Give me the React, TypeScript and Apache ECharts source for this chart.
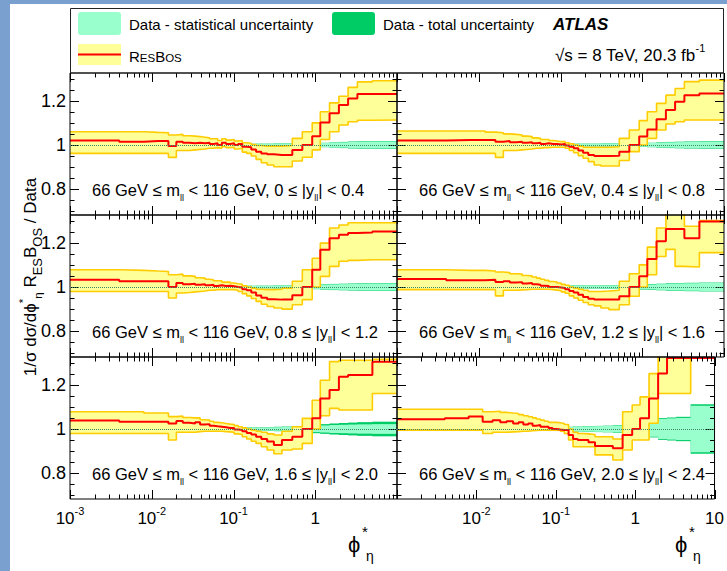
import React, { useEffect, useRef } from 'react';
import * as echarts from 'echarts';

// phi*_eta bin edges (first bin starts at 0, drawn from the axis minimum)
const phiEdges = [0, 0.004, 0.008, 0.012, 0.016, 0.020, 0.024, 0.029, 0.034, 0.039, 0.045, 0.051, 0.057, 0.064, 0.072, 0.081, 0.091, 0.102, 0.114, 0.128, 0.145, 0.165, 0.189, 0.219, 0.258, 0.312, 0.391, 0.524, 0.695, 0.918, 1.153, 1.496, 1.947, 2.522, 3.277, 5.0, 10.0];

const rapLo = ['0', '0.4', '0.8', '1.2', '1.6', '2.0'];
const rapHi = ['0.4', '0.8', '1.2', '1.6', '2.0', '2.4'];

const xDecades = [0.001, 0.01, 0.1, 1, 10];
const xLabelText = ['10{sup|-3}', '10{sup|-2}', '10{sup|-1}', '1', '10'];
const xMinorMultipliers = [2, 3, 4, 5, 6, 7, 8, 9];
const yMajor = [0.8, 1.0, 1.2];
const yMinor = [0.7, 0.75, 0.85, 0.9, 0.95, 1.05, 1.1, 1.15, 1.25, 1.3];

// Panel 1: 0 <= |y| < 0.4
const resbos1 = [1.020, 1.015, 1.018, 1.018, 0.995, 1.015, 1.010, 1.008, 1.010, 1.008, 1.010, 1.005, 1.008, 1.000, 1.010, 1.005, 1.008, 1.000, 1.005, 0.992, 0.990, 0.980, 0.970, 0.962, 0.958, 0.955, 0.955, 0.977, 1.000, 1.040, 1.102, 1.143, 1.180, 1.210, 1.230, 1.230];
const resbosUp1 = [1.060, 1.060, 1.057, 1.055, 1.045, 1.048, 1.042, 1.040, 1.038, 1.035, 1.032, 1.028, 1.028, 1.020, 1.028, 1.022, 1.025, 1.018, 1.020, 1.010, 1.008, 1.002, 0.998, 0.995, 0.995, 0.995, 0.998, 1.030, 1.060, 1.100, 1.150, 1.190, 1.220, 1.260, 1.285, 1.290];
const resbosLo1 = [0.962, 0.962, 0.962, 0.962, 0.944, 0.975, 0.975, 0.978, 0.980, 0.982, 0.985, 0.985, 0.988, 0.985, 0.992, 0.988, 0.990, 0.982, 0.985, 0.968, 0.962, 0.950, 0.935, 0.920, 0.910, 0.902, 0.902, 0.928, 0.945, 0.978, 1.025, 1.060, 1.090, 1.105, 1.112, 1.113];
const stat1 = [0.005, 0.005, 0.005, 0.005, 0.005, 0.005, 0.005, 0.005, 0.005, 0.005, 0.005, 0.005, 0.005, 0.005, 0.005, 0.005, 0.005, 0.005, 0.005, 0.005, 0.005, 0.005, 0.005, 0.005, 0.005, 0.006, 0.006, 0.006, 0.007, 0.008, 0.009, 0.011, 0.012, 0.014, 0.015, 0.016];
const total1 = [0.006, 0.006, 0.006, 0.006, 0.006, 0.006, 0.006, 0.006, 0.006, 0.006, 0.006, 0.006, 0.006, 0.006, 0.006, 0.006, 0.006, 0.006, 0.006, 0.006, 0.006, 0.006, 0.006, 0.006, 0.006, 0.007, 0.007, 0.007, 0.008, 0.009, 0.010, 0.012, 0.014, 0.016, 0.017, 0.018];

// Panel 2: 0.4 <= |y| < 0.8
const resbos2 = [1.020, 1.022, 1.022, 1.022, 1.015, 1.018, 1.012, 1.015, 1.010, 1.012, 1.008, 1.010, 1.005, 1.008, 1.005, 1.005, 1.002, 1.004, 0.998, 0.992, 0.985, 0.975, 0.965, 0.955, 0.950, 0.950, 0.952, 0.970, 1.000, 1.038, 1.070, 1.116, 1.158, 1.195, 1.225, 1.233];
const resbosUp2 = [1.063, 1.063, 1.063, 1.058, 1.055, 1.050, 1.048, 1.045, 1.040, 1.038, 1.032, 1.030, 1.025, 1.025, 1.020, 1.018, 1.015, 1.015, 1.010, 1.005, 1.000, 0.995, 0.990, 0.990, 0.990, 0.990, 0.992, 1.030, 1.068, 1.110, 1.150, 1.188, 1.225, 1.255, 1.286, 1.293];
const resbosLo2 = [0.962, 0.962, 0.962, 0.962, 0.944, 0.975, 0.975, 0.978, 0.980, 0.982, 0.985, 0.985, 0.988, 0.988, 0.990, 0.990, 0.990, 0.990, 0.985, 0.975, 0.965, 0.952, 0.940, 0.925, 0.910, 0.905, 0.905, 0.930, 0.970, 1.000, 1.030, 1.068, 1.095, 1.105, 1.113, 1.113];
const stat2 = [0.005, 0.005, 0.005, 0.005, 0.005, 0.005, 0.005, 0.005, 0.005, 0.005, 0.005, 0.005, 0.005, 0.005, 0.005, 0.005, 0.005, 0.005, 0.005, 0.005, 0.005, 0.005, 0.005, 0.005, 0.005, 0.006, 0.006, 0.006, 0.007, 0.008, 0.009, 0.010, 0.012, 0.013, 0.014, 0.015];
const total2 = [0.006, 0.006, 0.006, 0.006, 0.006, 0.006, 0.006, 0.006, 0.006, 0.006, 0.006, 0.006, 0.006, 0.006, 0.006, 0.006, 0.006, 0.006, 0.006, 0.006, 0.006, 0.006, 0.006, 0.006, 0.006, 0.007, 0.007, 0.007, 0.008, 0.009, 0.010, 0.012, 0.014, 0.015, 0.016, 0.017];

// Panel 3: 0.8 <= |y| < 1.2
const resbos3 = [1.033, 1.026, 1.026, 1.026, 1.000, 1.018, 1.012, 1.015, 1.010, 1.012, 1.008, 1.010, 1.005, 1.008, 1.005, 1.006, 1.003, 1.000, 0.998, 0.990, 0.985, 0.975, 0.962, 0.952, 0.945, 0.943, 0.943, 0.963, 1.000, 1.078, 1.168, 1.220, 1.236, 1.244, 1.246, 1.250];
const resbosUp3 = [1.078, 1.075, 1.072, 1.070, 1.055, 1.058, 1.050, 1.048, 1.042, 1.040, 1.035, 1.032, 1.028, 1.028, 1.022, 1.022, 1.018, 1.015, 1.012, 1.005, 1.000, 0.995, 0.990, 0.988, 0.988, 0.990, 0.995, 1.026, 1.078, 1.130, 1.198, 1.266, 1.280, 1.290, 1.290, 1.290];
const resbosLo3 = [0.980, 0.980, 0.980, 0.980, 0.950, 0.973, 0.975, 0.978, 0.980, 0.982, 0.985, 0.985, 0.988, 0.988, 0.988, 0.988, 0.988, 0.985, 0.980, 0.970, 0.960, 0.948, 0.935, 0.922, 0.912, 0.905, 0.900, 0.920, 0.943, 1.000, 1.048, 1.093, 1.116, 1.120, 1.123, 1.123];
const stat3 = [0.005, 0.005, 0.005, 0.005, 0.005, 0.005, 0.005, 0.005, 0.005, 0.005, 0.005, 0.005, 0.005, 0.005, 0.005, 0.005, 0.005, 0.005, 0.005, 0.005, 0.005, 0.005, 0.005, 0.005, 0.005, 0.006, 0.006, 0.007, 0.008, 0.009, 0.010, 0.012, 0.013, 0.014, 0.015, 0.016];
const total3 = [0.006, 0.006, 0.006, 0.006, 0.006, 0.006, 0.006, 0.006, 0.006, 0.006, 0.006, 0.006, 0.006, 0.006, 0.006, 0.006, 0.006, 0.006, 0.006, 0.006, 0.006, 0.006, 0.006, 0.006, 0.006, 0.007, 0.007, 0.008, 0.009, 0.010, 0.012, 0.014, 0.015, 0.016, 0.017, 0.018];

// Panel 4: 1.2 <= |y| < 1.6
const resbos4 = [1.036, 1.030, 1.030, 1.033, 1.022, 1.026, 1.020, 1.022, 1.016, 1.018, 1.012, 1.010, 1.006, 1.004, 1.000, 1.000, 0.998, 0.995, 0.990, 0.982, 0.975, 0.965, 0.955, 0.947, 0.943, 0.943, 0.943, 0.958, 1.000, 1.048, 1.126, 1.206, 1.262, 1.262, 1.220, 1.296];
const resbosUp4 = [1.078, 1.075, 1.075, 1.072, 1.068, 1.065, 1.060, 1.058, 1.052, 1.050, 1.045, 1.040, 1.035, 1.030, 1.025, 1.022, 1.018, 1.012, 1.008, 1.000, 0.995, 0.990, 0.985, 0.980, 0.980, 0.982, 0.985, 1.026, 1.060, 1.100, 1.180, 1.266, 1.340, 1.340, 1.274, 1.300];
const resbosLo4 = [0.988, 0.988, 0.988, 0.988, 0.960, 0.985, 0.985, 0.987, 0.988, 0.990, 0.990, 0.990, 0.990, 0.990, 0.988, 0.986, 0.983, 0.978, 0.972, 0.960, 0.950, 0.940, 0.930, 0.920, 0.915, 0.905, 0.898, 0.920, 0.958, 1.000, 1.055, 1.138, 1.170, 1.093, 1.090, 1.155];
const stat4 = [0.006, 0.006, 0.006, 0.006, 0.006, 0.006, 0.006, 0.006, 0.006, 0.006, 0.006, 0.006, 0.006, 0.006, 0.006, 0.006, 0.006, 0.006, 0.006, 0.006, 0.006, 0.006, 0.006, 0.006, 0.006, 0.007, 0.007, 0.008, 0.009, 0.010, 0.011, 0.013, 0.015, 0.016, 0.017, 0.018];
const total4 = [0.007, 0.007, 0.007, 0.007, 0.007, 0.007, 0.007, 0.007, 0.007, 0.007, 0.007, 0.007, 0.007, 0.007, 0.007, 0.007, 0.007, 0.007, 0.007, 0.007, 0.007, 0.007, 0.007, 0.007, 0.007, 0.008, 0.008, 0.009, 0.010, 0.012, 0.013, 0.015, 0.017, 0.018, 0.019, 0.020];

// Panel 5: 1.6 <= |y| < 2.0
const resbos5 = [1.038, 1.033, 1.033, 1.033, 1.025, 1.036, 1.028, 1.025, 1.030, 1.020, 1.022, 1.015, 1.012, 1.010, 1.008, 1.005, 1.005, 0.998, 0.995, 0.990, 0.982, 0.975, 0.965, 0.955, 0.943, 0.928, 0.950, 0.965, 1.000, 1.048, 1.138, 1.176, 1.236, 1.244, 1.244, 1.304];
const resbosUp5 = [1.078, 1.078, 1.072, 1.072, 1.056, 1.058, 1.052, 1.050, 1.050, 1.042, 1.040, 1.035, 1.030, 1.028, 1.025, 1.022, 1.020, 1.015, 1.010, 1.005, 1.000, 0.995, 0.990, 0.985, 0.978, 0.973, 0.990, 1.010, 1.048, 1.130, 1.220, 1.304, 1.310, 1.310, 1.310, 1.315];
const resbosLo5 = [0.980, 0.980, 0.980, 0.980, 0.950, 0.985, 0.985, 0.985, 0.988, 0.990, 0.990, 0.990, 0.990, 0.990, 0.988, 0.987, 0.985, 0.978, 0.975, 0.965, 0.955, 0.945, 0.935, 0.920, 0.905, 0.888, 0.905, 0.910, 0.935, 1.000, 1.060, 1.093, 1.086, 1.086, 1.086, 1.160];
const stat5 = [0.006, 0.006, 0.006, 0.006, 0.006, 0.006, 0.006, 0.006, 0.006, 0.006, 0.006, 0.006, 0.006, 0.006, 0.006, 0.006, 0.006, 0.006, 0.006, 0.006, 0.006, 0.006, 0.006, 0.006, 0.007, 0.008, 0.009, 0.010, 0.012, 0.014, 0.016, 0.018, 0.019, 0.020, 0.021, 0.022];
const total5 = [0.007, 0.007, 0.007, 0.007, 0.007, 0.007, 0.007, 0.007, 0.007, 0.007, 0.007, 0.007, 0.007, 0.007, 0.007, 0.007, 0.007, 0.007, 0.007, 0.007, 0.007, 0.007, 0.007, 0.007, 0.008, 0.010, 0.011, 0.013, 0.016, 0.019, 0.022, 0.025, 0.027, 0.029, 0.031, 0.033];

// Panel 6: 2.0 <= |y| < 2.4
const resbos6 = [1.044, 1.048, 1.056, 1.033, 1.040, 1.030, 1.035, 1.025, 1.030, 1.020, 1.025, 1.015, 1.018, 1.010, 1.010, 1.005, 1.000, 0.998, 0.996, 0.995, 0.973, 0.955, 0.950, 0.950, 0.940, 0.923, 0.923, 0.913, 0.973, 1.000, 1.048, 1.138, 1.250, 1.320, 1.320, 1.320];
const resbosUp6 = [1.089, 1.089, 1.089, 1.078, 1.080, 1.075, 1.072, 1.070, 1.065, 1.060, 1.055, 1.050, 1.045, 1.040, 1.035, 1.030, 1.030, 1.028, 1.025, 1.020, 1.000, 0.985, 0.980, 0.978, 0.975, 0.965, 0.965, 0.955, 1.078, 1.108, 1.145, 1.250, 1.400, 1.450, 1.450, 1.500];
const resbosLo6 = [0.995, 0.995, 0.995, 0.980, 0.985, 0.985, 0.987, 0.988, 0.990, 0.990, 0.992, 0.993, 0.994, 0.995, 0.995, 0.995, 0.995, 0.995, 0.990, 0.980, 0.950, 0.920, 0.920, 0.920, 0.920, 0.883, 0.883, 0.860, 0.905, 0.950, 0.950, 1.026, 1.160, 1.160, 1.160, 1.340];
const stat6 = [0.008, 0.008, 0.008, 0.008, 0.008, 0.008, 0.008, 0.008, 0.008, 0.008, 0.008, 0.008, 0.008, 0.008, 0.008, 0.008, 0.008, 0.008, 0.008, 0.008, 0.009, 0.010, 0.010, 0.011, 0.012, 0.013, 0.014, 0.016, 0.018, 0.020, 0.025, 0.035, 0.045, 0.048, 0.050, 0.105];
const total6 = [0.009, 0.009, 0.009, 0.009, 0.009, 0.009, 0.009, 0.009, 0.009, 0.009, 0.009, 0.009, 0.009, 0.009, 0.009, 0.009, 0.009, 0.009, 0.009, 0.009, 0.010, 0.011, 0.011, 0.012, 0.013, 0.014, 0.015, 0.018, 0.020, 0.022, 0.028, 0.038, 0.049, 0.052, 0.055, 0.112];

const panels = [
  { center: resbos1, up: resbosUp1, lo: resbosLo1, stat: stat1, total: total1 },
  { center: resbos2, up: resbosUp2, lo: resbosLo2, stat: stat2, total: total2 },
  { center: resbos3, up: resbosUp3, lo: resbosLo3, stat: stat3, total: total3 },
  { center: resbos4, up: resbosUp4, lo: resbosLo4, stat: stat4, total: total4 },
  { center: resbos5, up: resbosUp5, lo: resbosLo5, stat: stat5, total: total5 },
  { center: resbos6, up: resbosUp6, lo: resbosLo6, stat: stat6, total: total6 },
];

const X_MIN = 0.001;
const X_MAX = 10;
const Y_MIN = 0.684;
const Y_MAX = 1.325;

const FONT = "'Liberation Sans', Arial, Helvetica, sans-serif";
const MINT = '#99ffcc';
const GREEN = '#00cc66';
const YELLOW = '#ffff99';
const ORANGE = '#ffcc00';
const RED = '#ff0000';

const LEFT0 = 70;
const TOP0 = 73;
const PW = 327;
const PH = 142;

function steps(values: number[]): number[][] {
  const pts = values.map((v, i) => [Math.max(phiEdges[i], X_MIN), v]);
  pts.push([phiEdges[values.length], values[values.length - 1]]);
  return pts;
}

function binRows(lo: number[], hi: number[]): number[][] {
  return lo.map((l, i) => [Math.max(phiEdges[i], X_MIN), phiEdges[i + 1], l, hi[i]]);
}

function bandSeries(g: number, rows: number[][], color: string) {
  return {
    type: 'custom', xAxisIndex: g, yAxisIndex: g, silent: true, clip: true,
    encode: { x: [0, 1], y: [2, 3] },
    data: rows,
    renderItem: (params: any, api: any) => {
      const p0 = api.coord([api.value(0), api.value(3)]);
      const p1 = api.coord([api.value(1), api.value(2)]);
      const rect = echarts.graphic.clipRectByRect(
        { x: p0[0], y: p0[1], width: p1[0] - p0[0] + 0.6, height: p1[1] - p0[1] },
        params.coordSys,
      );
      if (!rect) return null;
      return { type: 'rect', shape: rect, style: { fill: color } };
    },
  };
}

// ROOT-style inward ticks on all four sides, placed through the panel's own axes
const xMinorTicks: number[] = [];
xDecades.slice(0, 4).forEach((d) => xMinorMultipliers.forEach((m) => xMinorTicks.push(d * m)));
const tickItems: number[][] = [
  ...xDecades.map((v) => [v, 0]),
  ...xMinorTicks.map((v) => [v, 1]),
  ...yMajor.map((v) => [v, 2]),
  ...yMinor.map((v) => [v, 3]),
];

function tickSeries(g: number) {
  return {
    type: 'custom', xAxisIndex: g, yAxisIndex: g, silent: true, clip: false, z: 4,
    encode: { x: 0, y: 1 },
    data: tickItems,
    renderItem: (params: any, api: any) => {
      const cs = params.coordSys;
      const v = api.value(0);
      const kind = api.value(1);
      const st = { stroke: '#000', lineWidth: 1 };
      if (kind <= 1) {
        const px = Math.round(api.coord([v, 1])[0]) + 0.5;
        const len = kind === 0 ? 9 : 4.5;
        const yb = cs.y + cs.height;
        return {
          type: 'group', children: [
            { type: 'line', shape: { x1: px, y1: yb, x2: px, y2: yb - len }, style: st },
            { type: 'line', shape: { x1: px, y1: cs.y, x2: px, y2: cs.y + len }, style: st },
          ],
        };
      }
      const py = Math.round(api.coord([1, v])[1]) + 0.5;
      const len = kind === 2 ? 9 : 4.5;
      const xr = cs.x + cs.width;
      return {
        type: 'group', children: [
          { type: 'line', shape: { x1: cs.x, y1: py, x2: cs.x + len, y2: py }, style: st },
          { type: 'line', shape: { x1: xr, y1: py, x2: xr - len, y2: py }, style: st },
        ],
      };
    },
  };
}

function buildOption() {
  const grid: any[] = [];
  const xAxis: any[] = [];
  const yAxis: any[] = [];
  const series: any[] = [];
  const graphic: any[] = [];

  graphic.push({ type: 'rect', z: -10, silent: true, shape: { x: 10, y: 4, width: 717, height: 567 }, style: { fill: '#ffffff' } });

  const noLine = { show: false, onZero: false };

  panels.forEach((p, g) => {
    const row = Math.floor(g / 2);
    const col = g % 2;
    const left = LEFT0 + col * PW;
    const top = TOP0 + row * PH;
    grid.push({ left, top, width: PW, height: PH, show: true, borderColor: '#000', borderWidth: 1, backgroundColor: 'transparent', z: 5 });

    xAxis.push({
      type: 'log', gridIndex: g, min: X_MIN, max: X_MAX, logBase: 10, position: 'bottom',
      axisLine: noLine, axisTick: { show: false }, splitLine: { show: false }, minorTick: { show: false },
      axisLabel: row === 2 ? {
        show: true, margin: 6, fontSize: 17, lineHeight: 26, color: '#000', fontFamily: FONT,
        formatter: (v: number) => {
          const e = Math.round(Math.log10(v));
          if (col === 0 && e === 1) return '';
          if (col === 1 && e === -3) return '';
          const idx = xDecades.findIndex((d) => Math.round(Math.log10(d)) === e);
          return idx >= 0 ? xLabelText[idx] : '';
        },
        rich: { sup: { fontSize: 11, lineHeight: 10, verticalAlign: 'top', color: '#000', fontFamily: FONT } },
      } : { show: false },
    });

    yAxis.push({
      type: 'value', gridIndex: g, min: Y_MIN, max: Y_MAX, position: 'left',
      axisLine: noLine, axisTick: { show: false }, splitLine: { show: false },
      axisLabel: { show: col === 0, customValues: yMajor, margin: 4, fontSize: 18, color: '#000', fontFamily: FONT, formatter: (v: number) => (Math.abs(v - 1) < 1e-9 ? '1' : v.toFixed(1)) },
    });

    const common = { type: 'line', xAxisIndex: g, yAxisIndex: g, symbol: 'none', showSymbol: false, silent: true, step: 'end', clip: true };
    series.push(bandSeries(g, binRows(p.total.map((t) => 1 - t), p.total.map((t) => 1 + t)), GREEN));
    series.push(bandSeries(g, binRows(p.stat.map((s) => 1 - s), p.stat.map((s) => 1 + s)), MINT));
    series.push(bandSeries(g, binRows(p.lo, p.up), YELLOW));
    series.push({ ...common, data: steps(p.up), lineStyle: { color: ORANGE, width: 1.6 } });
    series.push({
      ...common, data: steps(p.lo), lineStyle: { color: ORANGE, width: 1.6 },
      markLine: { silent: true, symbol: ['none', 'none'], label: { show: false }, lineStyle: { color: '#3f8a68', width: 1, type: 'dotted' }, data: [{ yAxis: 1 }] },
    });
    series.push({ ...common, data: steps(p.center), lineStyle: { color: RED, width: 2 } });
    series.push(tickSeries(g));

    graphic.push({
      type: 'text', x: left + 22, y: top + 117, silent: true, z: 20,
      style: {
        text: `66 GeV ≤ m{s|ll} < 116 GeV, ${rapLo[g]} ≤ |y{s|ll}| < ${rapHi[g]}`,
        fontSize: 16.5, fontFamily: FONT, fill: '#000', verticalAlign: 'middle', lineHeight: 24,
        rich: { s: { fontSize: 9, lineHeight: 10, verticalAlign: 'bottom', fontFamily: FONT, fill: '#000' } },
      },
    });

    if (row === 2) {
      const right = left + PW;
      graphic.push({ type: 'text', x: right - 49, y: 544, silent: true, z: 20, style: { text: 'ϕ', fontSize: 22, fontFamily: FONT, fill: '#000', verticalAlign: 'middle' } });
      graphic.push({ type: 'text', x: right - 35, y: 531, silent: true, z: 20, style: { text: '*', fontSize: 15, fontFamily: FONT, fill: '#000', verticalAlign: 'middle' } });
      graphic.push({ type: 'text', x: right - 31, y: 556, silent: true, z: 20, style: { text: 'η', fontSize: 14, fontFamily: FONT, fill: '#000', verticalAlign: 'middle' } });
    }
  });

  // legend
  graphic.push({ type: 'rect', silent: true, z: 20, shape: { x: 70.5, y: 8.5, width: 653, height: 64.5 }, style: { fill: 'none', stroke: '#222', lineWidth: 1 } });
  graphic.push({ type: 'rect', silent: true, z: 20, shape: { x: 78, y: 12, width: 43, height: 23, r: 3 }, style: { fill: MINT } });
  graphic.push({ type: 'text', x: 129, y: 24, silent: true, z: 20, style: { text: 'Data - statistical uncertainty', fontSize: 15, fontFamily: FONT, fill: '#000', verticalAlign: 'middle' } });
  graphic.push({ type: 'rect', silent: true, z: 20, shape: { x: 332, y: 12, width: 43, height: 23, r: 3 }, style: { fill: GREEN } });
  graphic.push({ type: 'text', x: 383, y: 24, silent: true, z: 20, style: { text: 'Data - total uncertainty', fontSize: 15, fontFamily: FONT, fill: '#000', verticalAlign: 'middle' } });
  graphic.push({ type: 'rect', silent: true, z: 20, shape: { x: 78, y: 44, width: 43, height: 21 }, style: { fill: YELLOW } });
  graphic.push({ type: 'line', silent: true, z: 20, shape: { x1: 78, y1: 54.5, x2: 121, y2: 54.5 }, style: { stroke: RED, lineWidth: 2 } });
  graphic.push({
    type: 'text', x: 129, y: 56, silent: true, z: 20,
    style: {
      text: 'R{sc|ES}B{sc|OS}', fontSize: 15, lineHeight: 15, fontFamily: FONT, fill: '#000', verticalAlign: 'middle',
      rich: { sc: { fontSize: 11.5, lineHeight: 12.6, verticalAlign: 'bottom', fontFamily: FONT, fill: '#000' } },
    },
  });
  graphic.push({ type: 'text', x: 553, y: 24, silent: true, z: 20, style: { text: 'ATLAS', fontSize: 17, fontWeight: 'bold', fontStyle: 'italic', fontFamily: FONT, fill: '#000', verticalAlign: 'middle' } });
  graphic.push({
    type: 'text', x: 555, y: 55, silent: true, z: 20,
    style: {
      text: '√s = 8 TeV, 20.3 fb{sup|-1}', fontSize: 17, lineHeight: 26, fontFamily: FONT, fill: '#000', verticalAlign: 'middle',
      rich: { sup: { fontSize: 11, lineHeight: 10, verticalAlign: 'top', fontFamily: FONT, fill: '#000' } },
    },
  });

  graphic.push({
    type: 'text', x: 30, y: 277, rotation: Math.PI / 2, silent: true, z: 20,
    style: {
      text: '1/σ dσ/dϕ{sup|*}{sub|η} R{sc|ES}B{sc|OS} / Data',
      fontSize: 17, lineHeight: 27, fontFamily: FONT, fill: '#000', align: 'center', verticalAlign: 'middle',
      rich: {
        sup: { fontSize: 11.5, lineHeight: 10.5, verticalAlign: 'top', fontFamily: FONT, fill: '#000' },
        sub: { fontSize: 11.5, lineHeight: 10.5, verticalAlign: 'bottom', fontFamily: FONT, fill: '#000' },
        sc: { fontSize: 13, lineHeight: 24.2, verticalAlign: 'bottom', fontFamily: FONT, fill: '#000' },
      },
    },
  });

  return {
    animation: false,
    backgroundColor: '#7aa0cf',
    grid, xAxis, yAxis, series, graphic,
  };
}

export default function App() {
  const ref = useRef<HTMLDivElement>(null);
  useEffect(() => {
    if (!ref.current) return;
    const chart = echarts.init(ref.current, undefined, { renderer: 'svg', width: 727, height: 571 });
    chart.setOption(buildOption() as any);
    return () => chart.dispose();
  }, []);
  return <div ref={ref} style={{ position: 'fixed', left: 0, top: 0, width: 727, height: 571 }} />;
}
